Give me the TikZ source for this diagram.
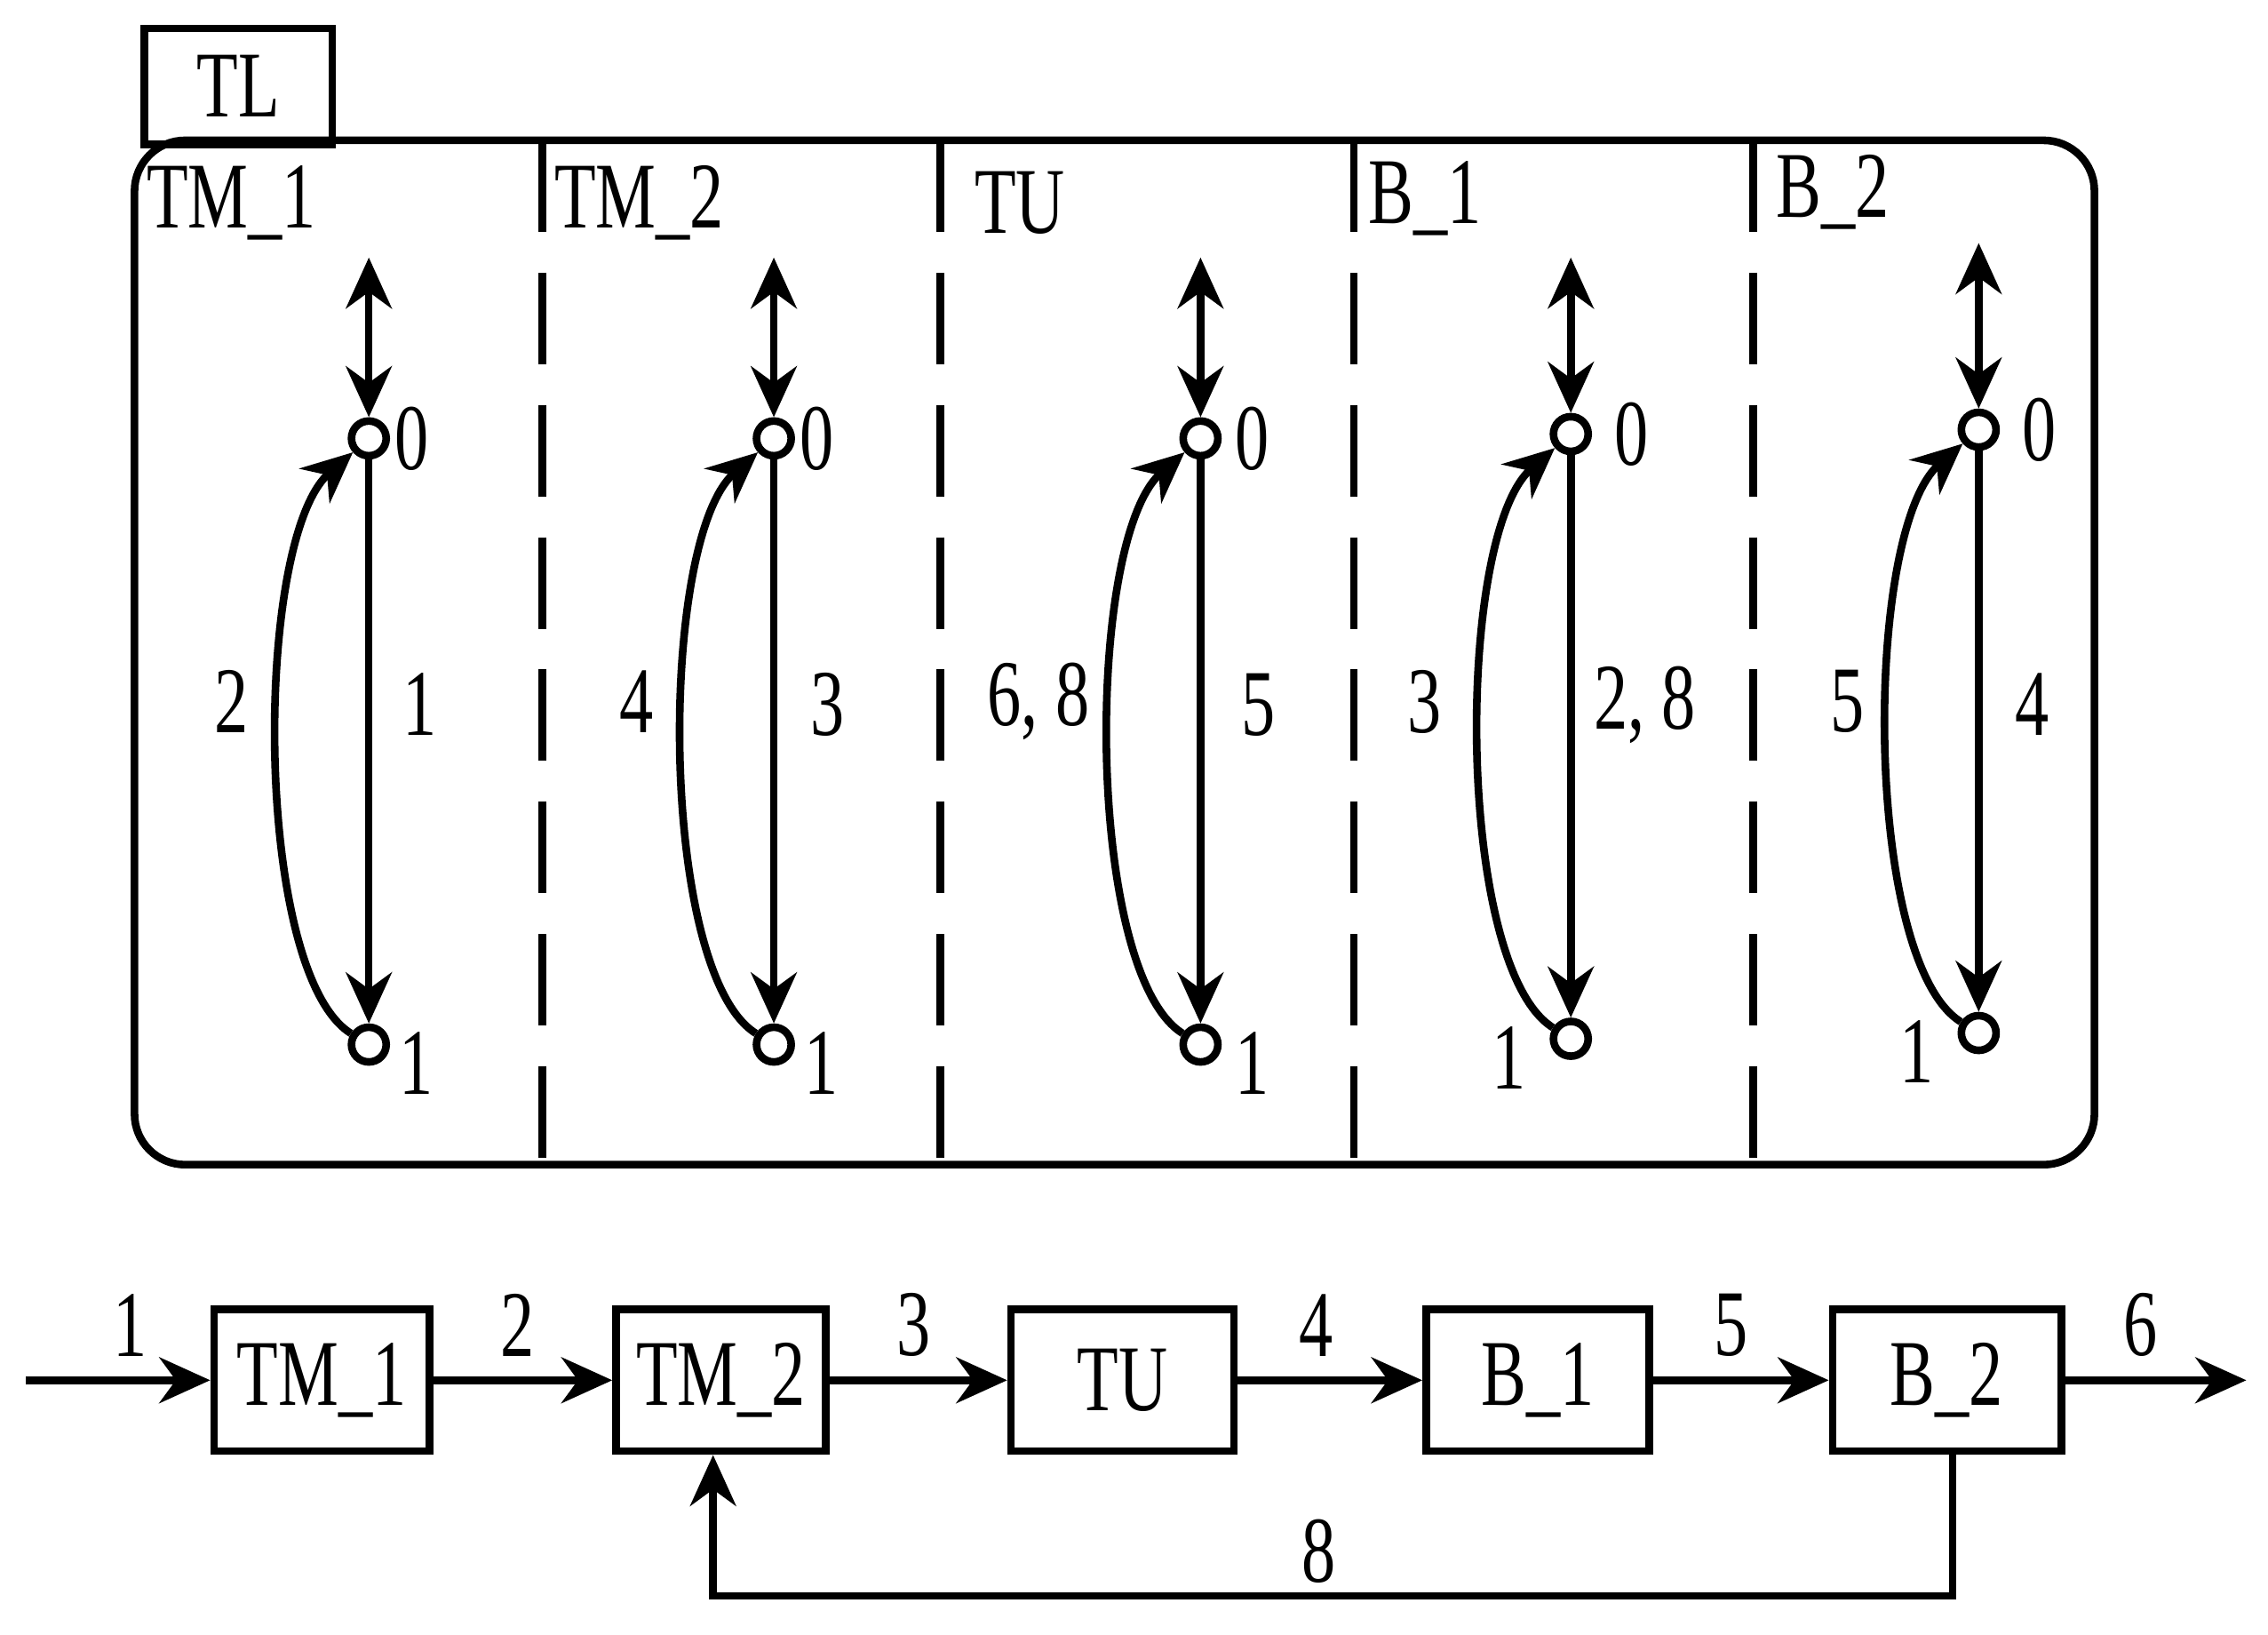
\documentclass[tikz,border=0pt]{standalone}
\usepackage{fontspec}
\setmainfont{Liberation Serif}[FakeStretch=0.72]
\usetikzlibrary{arrows.meta}
\begin{document}
\begin{tikzpicture}[x=0.01cm,y=-0.01cm,
  ln/.style={line width=1.5pt},
  arr/.style={ln,-{Stealth[length=10pt,width=9pt]}},
  st/.style={circle,draw,fill=white,line width=1.5pt,minimum size=0.24cm,inner sep=0pt},
  txt/.style={font=\fontsize{18.5}{22}\selectfont,inner sep=0pt},
  box/.style={draw,ln,minimum height=0.98cm,font=\fontsize{18.5}{22}\selectfont}]
\useasboundingbox (0,0) rectangle (1568,1130);
\node[draw,ln,minimum width=1.3cm,minimum height=0.8cm,anchor=north west,txt] (tl) at (97,17) {TL};
\draw[ln,rounded corners=0.35cm] (93,97) rectangle (1448,805);
\foreach \x in {375,650,936,1212} \draw[ln,dash pattern=on 18pt off 8pt] (\x,97) -- (\x,800);
\foreach \t/\x/\y in {TM\_1/160/140,TM\_2/442/140,TU/705/140,B\_1/985/137,B\_2/1267/133}
  \node[txt] at (\x,\y) {\t};
\foreach \n/\x/\ya/\yb/\yt/\ll/\rl/\llx/\rlx/\zx/\ox in
 {a/255/303/722/178/2/1/160/290/285/288,
  b/535/303/722/178/4/3/440/572/565/568,
  c/830/303/722/178/{6, 8}/5/718/870/866/866,
  d/1086/300/718/178/3/{2, 8}/985/1137/1128/1043,
  e/1368/297/714/168/5/4/1277/1405/1410/1325}{
  \node[st] (\n0) at (\x,\ya) {};
  \node[st] (\n1) at (\x,\yb) {};
  \coordinate (\n t) at (\x,\yt);
  \draw[ln,{Stealth[length=10pt,width=9pt]}-{Stealth[length=10pt,width=9pt]}] (\n t) -- (\n0);
  \draw[arr] (\n0) -- (\n1);
  \draw[arr] (\n1) .. controls (\x-80,\yb-50) and (\x-80,\ya+70) .. (\n0);
  \node[txt] at (\llx,485) {\ll};
  \node[txt] at (\rlx,487) {\rl};
  \node[txt] at (\zx,\ya) {0};
  \node[txt] at (\ox,\yb+13) {1};
}
\node[box,minimum width=1.49cm] (m1) at (222.5,954) {TM\_1};
\node[box,minimum width=1.45cm] (m2) at (498.5,954) {TM\_2};
\node[box,minimum width=1.54cm] (tu) at (776,954) {TU};
\node[box,minimum width=1.54cm] (b1) at (1063,954) {B\_1};
\node[box,minimum width=1.58cm] (b2) at (1346,954) {B\_2};
\coordinate (in) at (18,954);
\coordinate (out) at (1553,954);
\draw[arr] (in) -- (m1);
\draw[arr] (m1) -- (m2);
\draw[arr] (m2) -- (tu);
\draw[arr] (tu) -- (b1);
\draw[arr] (b1) -- (b2);
\draw[arr] (b2) -- (out);
\draw[arr] (b2.south -| 1350,0) -- (1350,1103) -- (493,1103) -- (m2.south -| 493,0);
\foreach \t/\x in {1/90,2/358,3/632,4/910,5/1197,6/1480} \node[txt] at (\x,916) {\t};
\node[txt] at (912,1072) {8};
\end{tikzpicture}
\end{document}
